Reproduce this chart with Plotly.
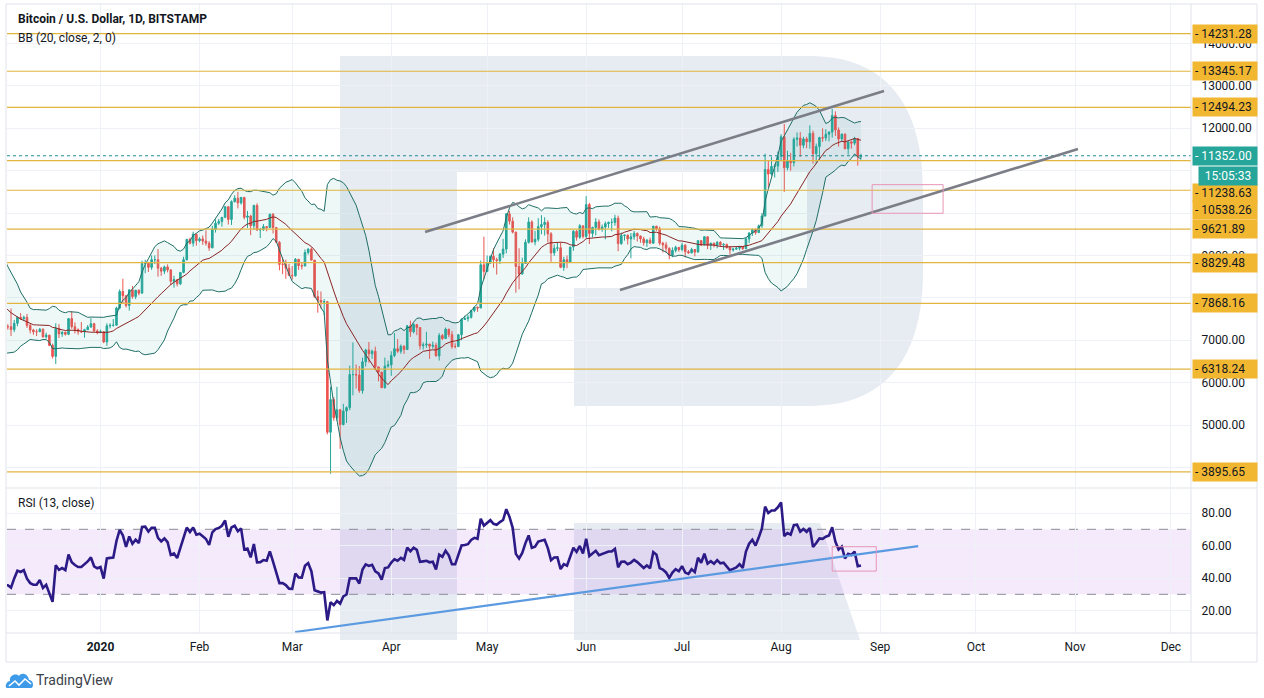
import pandas as pd
import plotly.graph_objects as go

# ---------------- data (BTC/USD daily, Bitstamp) ----------------
dates = pd.date_range("2019-11-08", "2020-08-26", freq="D")

opens = [
    # Nov 8-30
    9235, 8804, 8815, 9055, 8757, 8815, 8808, 8630, 8458, 8491, 8502, 8188, 8119, 8086, 7628, 7280, 7325, 6970, 7140, 7160, 7530, 7470, 7760,
    # Dec
    7570, 7420, 7320, 7320, 7250, 7400, 7540, 7510, 7540, 7350, 7240, 7200, 7200, 7260, 7080, 7120, 6880, 6620, 7280, 7150, 7190, 7140, 7510, 7320, 7250, 7200, 7200, 7250, 7310, 7390, 7220,
    # Jan
    7180, 7200, 6960, 7340, 7350, 7355, 7760, 8150, 8050, 7820, 8190, 8030, 8180, 8110, 8810, 8820, 8720, 8900, 8900, 8700, 8630, 8730, 8660, 8390, 8430, 8330, 8600, 8900, 9380, 9290, 9500,
    # Feb
    9350, 9390, 9340, 9290, 9180, 9620, 9760, 9800, 9900, 10150, 9850, 10270, 10350, 10240, 10370, 9900, 9930, 9700, 10180, 9600, 9610, 9680, 9660, 9970, 9660, 9310, 8790, 8790, 8700,
    # Mar
    8530, 8520, 8910, 8760, 8750, 9070, 9150, 8890, 8030, 7940, 7900, 7910, 4830, 5600, 5170, 5360, 5010, 5330, 5410, 6190, 6190, 6180, 5810, 6490, 6770, 6680, 6740, 6370, 6250, 5880, 6390,
    # Apr
    6420, 6640, 6800, 6740, 6860, 6780, 7340, 7200, 7370, 7300, 6870, 6890, 6910, 6860, 6880, 6630, 7110, 7040, 7260, 7130, 6850, 6850, 7130, 7490, 7510, 7540, 7700, 7780, 7760, 8780,
    # May
    8620, 8830, 8980, 8900, 8880, 9030, 9150, 9980, 9810, 9550, 8740, 8560, 8810, 9310, 9790, 9320, 9380, 9680, 9730, 9780, 9510, 9060, 9170, 9180, 8720, 8900, 8840, 9200, 9570, 9430, 9700,
    # Jun
    9450, 10200, 9520, 9660, 9790, 9620, 9670, 9750, 9780, 9780, 9880, 9280, 9470, 9480, 9390, 9440, 9520, 9460, 9390, 9300, 9360, 9290, 9690, 9630, 9290, 9250, 9170, 9010, 9120, 9190,
    # Jul
    9140, 9240, 9090, 9060, 9140, 9080, 9350, 9250, 9440, 9240, 9290, 9240, 9310, 9250, 9260, 9190, 9130, 9150, 9170, 9210, 9160, 9390, 9530, 9610, 9540, 9700, 9930, 11030, 10920, 11100, 11110,
    # Aug 1-26
    11340, 11800, 11070, 11230, 11190, 11740, 11770, 11600, 11750, 11680, 11880, 11400, 11570, 11780, 11770, 11860, 11910, 12300, 11960, 11750, 11860, 11520, 11680, 11650, 11760, 11330,
]

highs = [
    9235, 8900, 9110, 9075, 8860, 8830, 8810, 8650, 8530, 8600, 8510, 8190, 8230, 8150, 7700, 7350, 7350, 7350, 7300, 7640, 7620, 7870, 7800,
    7570, 7420, 7380, 7750, 7480, 7560, 7640, 7580, 7620, 7390, 7270, 7260, 7290, 7280, 7180, 7130, 6920, 7400, 7380, 7210, 7200, 7520, 7690, 7420, 7280, 7430, 7270, 7360, 7520, 7410, 7260,
    7250, 7210, 7400, 7400, 7500, 7790, 8200, 8450, 8050, 8190, 8280, 8190, 8200, 8880, 8900, 8840, 9000, 9000, 9150, 8730, 8760, 8790, 8670, 8520, 8430, 8600, 8970, 9390, 9420, 9560, 9520,
    9430, 9470, 9590, 9340, 9700, 9850, 9860, 9900, 10150, 10160, 10300, 10420, 10500, 10380, 10380, 10050, 9960, 10200, 10230, 9650, 9740, 9690, 9990, 10000, 9670, 9340, 8960, 8900, 8800,
    8750, 8940, 8910, 8840, 9140, 9170, 9190, 8890, 8170, 8150, 7970, 7920, 5900, 5660, 5900, 5380, 5500, 5440, 6400, 6950, 6430, 6390, 6590, 6800, 6960, 6780, 6850, 6380, 6250, 6590, 6520,
    6740, 7170, 7030, 6900, 6880, 7360, 7460, 7400, 7380, 7310, 6950, 7200, 6910, 6970, 6940, 7170, 7150, 7300, 7270, 7220, 6930, 7150, 7520, 7580, 7600, 7720, 7780, 7790, 8880, 9440,
    9000, 9000, 9170, 8950, 9060, 9390, 10000, 10050, 9900, 9560, 9170, 8950, 9380, 9900, 9830, 9580, 9880, 9950, 9900, 9830, 9550, 9260, 9300, 9310, 8970, 9000, 9200, 9600, 9600, 9740, 9700,
    10400, 10240, 9680, 9880, 9850, 9730, 9800, 9800, 9870, 9960, 9940, 9540, 9490, 9490, 9530, 9580, 9540, 9470, 9440, 9390, 9420, 9700, 9700, 9680, 9320, 9320, 9190, 9190, 9230, 9200,
    9300, 9270, 9130, 9180, 9150, 9360, 9360, 9460, 9450, 9300, 9300, 9340, 9340, 9290, 9280, 9210, 9180, 9200, 9230, 9220, 9420, 9550, 9640, 9640, 9730, 10000, 11400, 11230, 11330, 11160, 11450,
    11860, 12100, 11470, 11420, 11790, 11900, 11910, 11800, 11800, 12070, 11940, 11640, 11800, 12000, 11980, 11930, 12460, 12400, 12020, 11880, 11880, 11690, 11710, 11800, 11770, 11400,
]

lows = [
    8740, 8770, 8770, 8700, 8640, 8720, 8590, 8430, 8440, 8430, 8100, 8010, 8070, 7530, 6870, 7160, 6940, 6620, 7070, 6870, 7420, 7430, 7460,
    7250, 7250, 7250, 7100, 7190, 7330, 7480, 7450, 7290, 7160, 7130, 7100, 7200, 7060, 7040, 6860, 6570, 6440, 7050, 7080, 7110, 7120, 7270, 7160, 7130, 7170, 7060, 7240, 7300, 7200, 7140,
    7170, 6930, 6870, 7280, 7320, 7350, 7730, 7880, 7770, 7700, 7980, 7970, 8060, 8110, 8580, 8610, 8660, 8800, 8500, 8520, 8560, 8600, 8300, 8240, 8270, 8300, 8580, 8880, 9260, 9210, 9230,
    9310, 9250, 9230, 9110, 9170, 9540, 9720, 9680, 9880, 9730, 9720, 10250, 10110, 10200, 9850, 9650, 9480, 9600, 9580, 9410, 9580, 9570, 9650, 9520, 9290, 8650, 8560, 8450, 8520,
    8430, 8500, 8660, 8670, 8750, 9020, 8880, 8000, 7650, 7740, 7600, 4780, 3850, 5100, 5100, 4440, 4990, 5050, 5350, 5700, 5860, 5760, 5740, 6380, 6470, 6560, 6300, 6030, 5870, 5860, 6350,
    6160, 6600, 6700, 6680, 6680, 6780, 7080, 7160, 7120, 6780, 6780, 6820, 6560, 6800, 6620, 6520, 7000, 7030, 7070, 6800, 6810, 6840, 7000, 7480, 7440, 7510, 7660, 7670, 7760, 8440,
    8620, 8800, 8710, 8550, 8800, 8940, 9050, 9730, 9520, 8120, 8200, 8560, 8800, 9280, 9300, 9240, 9330, 9500, 9470, 9310, 8850, 8990, 9100, 8700, 8640, 8700, 8820, 9110, 9350, 9390, 9400,
    9410, 9270, 9430, 9470, 9590, 9560, 9380, 9650, 9570, 9700, 9100, 9250, 9350, 9260, 8930, 9370, 9330, 9300, 9230, 9200, 9280, 9280, 9580, 9240, 9070, 9070, 8910, 8960, 9070, 9090,
    9100, 8950, 9040, 9050, 8980, 9070, 9220, 9240, 9150, 9130, 9190, 9170, 9200, 9130, 9160, 9020, 9090, 9130, 9120, 9130, 9150, 9290, 9460, 9490, 9530, 9650, 9920, 10600, 10880, 10840, 10970,
    11220, 10500, 11010, 11000, 11100, 11570, 11330, 11530, 11530, 11520, 11170, 11160, 11260, 11680, 11700, 11690, 11780, 11820, 11570, 11680, 11500, 11380, 11520, 11600, 11120, 11260,
]

closes = [
    8804, 8815, 9055, 8757, 8815, 8808, 8630, 8458, 8491, 8502, 8188, 8119, 8086, 7628, 7280, 7325, 6970, 7140, 7160, 7530, 7470, 7760, 7570,
    7420, 7320, 7320, 7250, 7400, 7540, 7510, 7540, 7350, 7240, 7200, 7200, 7260, 7080, 7120, 6880, 6620, 7280, 7150, 7190, 7140, 7510, 7320, 7250, 7200, 7200, 7250, 7310, 7390, 7220, 7180,
    7200, 6960, 7340, 7350, 7355, 7760, 8150, 8050, 7820, 8190, 8030, 8180, 8110, 8810, 8820, 8720, 8900, 8900, 8700, 8630, 8730, 8660, 8390, 8430, 8330, 8600, 8900, 9380, 9290, 9500, 9350,
    9390, 9340, 9290, 9180, 9620, 9760, 9800, 9900, 10150, 9850, 10270, 10350, 10240, 10370, 9900, 9930, 9700, 10180, 9600, 9610, 9680, 9660, 9970, 9660, 9310, 8790, 8790, 8700, 8530,
    8520, 8910, 8760, 8750, 9070, 9150, 8890, 8030, 7940, 7900, 7910, 4830, 5600, 5170, 5360, 5010, 5330, 5410, 6190, 6190, 6180, 5810, 6490, 6770, 6680, 6740, 6370, 6250, 5880, 6390, 6420,
    6640, 6800, 6740, 6860, 6780, 7340, 7200, 7370, 7300, 6870, 6890, 6910, 6860, 6880, 6630, 7110, 7040, 7260, 7130, 6850, 6850, 7130, 7490, 7510, 7540, 7700, 7780, 7760, 8780, 8620,
    8830, 8980, 8900, 8880, 9030, 9150, 9980, 9810, 9550, 8740, 8560, 8810, 9310, 9790, 9320, 9380, 9680, 9730, 9780, 9510, 9060, 9170, 9180, 8720, 8900, 8840, 9200, 9570, 9430, 9700, 9450,
    10200, 9520, 9660, 9790, 9620, 9670, 9750, 9780, 9780, 9880, 9280, 9470, 9480, 9390, 9440, 9520, 9460, 9390, 9300, 9360, 9290, 9690, 9630, 9290, 9250, 9170, 9010, 9120, 9190, 9140,
    9240, 9090, 9060, 9140, 9080, 9350, 9250, 9440, 9240, 9290, 9240, 9310, 9250, 9260, 9190, 9130, 9150, 9170, 9210, 9160, 9390, 9530, 9610, 9540, 9700, 9930, 11030, 10920, 11100, 11110, 11340,
    11800, 11070, 11230, 11190, 11740, 11770, 11600, 11750, 11680, 11880, 11400, 11570, 11780, 11770, 11860, 11910, 12300, 11960, 11750, 11860, 11520, 11680, 11650, 11760, 11330, 11352,
]

levels = [14231.28, 13345.17, 12494.23, 11238.63, 10538.26, 9621.89, 8829.48, 7868.16, 6318.24, 3895.65]
last_price = 11352.00
countdown = "15:05:33"

month_ticks = list(pd.date_range("2020-01-01", "2020-12-01", freq="MS"))
month_labels = ["<b>2020</b>", "Feb", "Mar", "Apr", "May", "Jun", "Jul", "Aug", "Sep", "Oct", "Nov", "Dec"]
price_ticks = list(range(4000, 15000, 1000))
# price scale labels that sit hidden under the level labels in the reference
hidden_price_ticks = [4000, 8000, 10000, 11000]
rsi_ticks = [20, 40, 60, 80]

# drawings (anchor points)
upper_channel = [("2020-04-11 14:00", 9554), ("2020-09-02 05:00", 12880)]
lower_channel = [("2020-06-11 14:00", 8185), ("2020-11-01 22:00", 11512)]
rsi_trend = [("2020-03-01 22:00", 6.8), ("2020-09-12 22:00", 59.7)]
target_box = [("2020-08-29 12:00", 9995), ("2020-09-20 17:00", 10670)]
rsi_box = [("2020-08-17 00:00", 44.3), ("2020-08-30 19:00", 59.3)]

# ---------------- indicators ----------------
s = pd.Series(closes, index=dates, dtype=float)
basis = s.rolling(20).mean()
dev = s.rolling(20).std(ddof=0)
upper = basis + 2 * dev
lower = basis - 2 * dev
bb = pd.DataFrame({"basis": basis, "upper": upper, "lower": lower}).dropna()

chg = s.diff().iloc[1:]
avg_g = chg.clip(lower=0).ewm(alpha=1 / 13, adjust=False).mean()
avg_l = (-chg).clip(lower=0).ewm(alpha=1 / 13, adjust=False).mean()
rsi = 100 - 100 / (1 + avg_g / avg_l)

# ---------------- styling ----------------
UP, DOWN = "#26a69a", "#ef5350"
GOLD_LINE = "#e2b440"
GOLD_BOX = "#f2b730"
GRID = "#eef1f6"
TEXT = "#131722"
FONT = "Roboto"

# pixel -> paper helpers for decorations (plot area: x 7..1191, y 4..633)
def X(px):
    return (px - 7) / 1184.0

def Y(py):
    return (633 - py) / 629.0

fig = go.Figure()

fig.add_trace(go.Scatter(x=bb.index, y=bb["lower"], mode="lines",
                         line=dict(color="#1f6e66", width=1), hoverinfo="skip"))
fig.add_trace(go.Scatter(x=bb.index, y=bb["upper"], mode="lines", fill="tonexty",
                         fillcolor="rgba(38,166,154,0.08)",
                         line=dict(color="#1f6e66", width=1), hoverinfo="skip"))
fig.add_trace(go.Scatter(x=bb.index, y=bb["basis"], mode="lines",
                         line=dict(color="#8b2525", width=1), hoverinfo="skip"))
fig.add_trace(go.Candlestick(
    x=dates, open=opens, high=highs, low=lows, close=closes,
    increasing=dict(line=dict(color=UP, width=1), fillcolor=UP),
    decreasing=dict(line=dict(color=DOWN, width=1), fillcolor=DOWN),
    whiskerwidth=0, xaxis="x", yaxis="y"))
fig.add_trace(go.Scatter(x=rsi.index, y=rsi.values, mode="lines",
                         line=dict(color="#2c1b86", width=2.6),
                         xaxis="x2", yaxis="y2", hoverinfo="skip"))

shapes = []
# watermark logo
WM = "#e7ebf2"
wm_main = (f"M {X(340)},{Y(56)} L {X(810)},{Y(56)} "
           f"C {X(890)},{Y(56)} {X(923)},{Y(110)} {X(923)},{Y(190)} "
           f"L {X(923)},{Y(272)} "
           f"C {X(923)},{Y(352)} {X(890)},{Y(406)} {X(810)},{Y(406)} "
           f"L {X(574)},{Y(406)} L {X(574)},{Y(288)} L {X(807)},{Y(288)} "
           f"L {X(807)},{Y(172)} L {X(457)},{Y(172)} L {X(457)},{Y(640)} "
           f"L {X(340)},{Y(640)} Z")
wm_leg = (f"M {X(574)},{Y(523)} L {X(820)},{Y(523)} L {X(860)},{Y(640)} "
          f"L {X(574)},{Y(640)} Z")
for p in (wm_main, wm_leg):
    shapes.append(dict(type="path", path=p, xref="paper", yref="paper",
                       fillcolor=WM, line=dict(width=0), layer="below"))

# RSI band
shapes.append(dict(type="rect", xref="paper", yref="y2", x0=0, x1=1, y0=30, y1=70,
                   fillcolor="rgba(170,90,230,0.13)", line=dict(width=0), layer="below"))
for lv in (30, 70):
    shapes.append(dict(type="line", xref="paper", yref="y2", x0=0, x1=1, y0=lv, y1=lv,
                       line=dict(color="#8a8d96", width=1, dash="dash"), layer="below"))

# level lines
for lv in levels:
    shapes.append(dict(type="line", xref="paper", yref="y", x0=0, x1=1, y0=lv, y1=lv,
                       line=dict(color=GOLD_LINE, width=1.2), layer="above"))
# last price line
shapes.append(dict(type="line", xref="paper", yref="y", x0=0, x1=1, y0=last_price, y1=last_price,
                   line=dict(color="#1f8a95", width=1, dash="dot"), layer="above"))

# channel lines
for (a, b) in (upper_channel, lower_channel):
    shapes.append(dict(type="line", xref="x", yref="y", x0=a[0], y0=a[1], x1=b[0], y1=b[1],
                       line=dict(color="#7b7e86", width=2.6), layer="above"))
shapes.append(dict(type="line", xref="x2", yref="y2", x0=rsi_trend[0][0], y0=rsi_trend[0][1],
                   x1=rsi_trend[1][0], y1=rsi_trend[1][1],
                   line=dict(color="#5b9ae0", width=2.2), layer="above"))
shapes.append(dict(type="rect", xref="x", yref="y", x0=target_box[0][0], y0=target_box[0][1],
                   x1=target_box[1][0], y1=target_box[1][1],
                   line=dict(color="#e795b5", width=1), fillcolor="rgba(0,0,0,0)", layer="above"))
shapes.append(dict(type="rect", xref="x2", yref="y2", x0=rsi_box[0][0], y0=rsi_box[0][1],
                   x1=rsi_box[1][0], y1=rsi_box[1][1],
                   line=dict(color="#e795b5", width=1), fillcolor="rgba(0,0,0,0)", layer="above"))

# frame
BORDER = "#e0e3eb"
for (x0, y0, x1, y1) in [(6, 4, 1257, 4), (6, 4, 6, 662), (1257, 4, 1257, 662), (6, 662, 1257, 662),
                         (1191, 4, 1191, 662), (6, 633, 1257, 633), (6, 488, 1257, 488)]:
    shapes.append(dict(type="line", xref="paper", yref="paper", x0=X(x0), y0=Y(y0), x1=X(x1), y1=Y(y1),
                       line=dict(color=BORDER, width=1), layer="above"))

# TradingView logo icon
cloud = (f"M {X(7)},{Y(688)} L {X(31)},{Y(688)} C {X(34)},{Y(688)} {X(34)},{Y(680)} {X(29)},{Y(680)} "
         f"C {X(28)},{Y(673)} {X(21)},{Y(672)} {X(19)},{Y(676)} "
         f"C {X(16)},{Y(673)} {X(9)},{Y(675)} {X(10)},{Y(681)} "
         f"C {X(5)},{Y(682)} {X(5)},{Y(688)} {X(7)},{Y(688)} Z")
shapes.append(dict(type="path", path=cloud, xref="paper", yref="paper",
                   fillcolor="#3d9be9", line=dict(width=0), layer="above"))
wave = f"M {X(9)},{Y(686)} L {X(15)},{Y(681)} L {X(19)},{Y(685)} L {X(25)},{Y(679)} L {X(31)},{Y(684)}"
shapes.append(dict(type="path", path=wave, xref="paper", yref="paper",
                   line=dict(color="white", width=1.6), layer="above"))

annotations = []
annotations.append(dict(x=X(16), y=Y(19), xref="paper", yref="paper", xanchor="left", yanchor="middle",
                        text="<b>Bitcoin / U.S. Dollar, 1D, BITSTAMP</b>", showarrow=False,
                        font=dict(size=12, color=TEXT, family=FONT)))
annotations.append(dict(x=X(16), y=Y(38), xref="paper", yref="paper", xanchor="left", yanchor="middle",
                        text="BB (20, close, 2, 0)", showarrow=False,
                        font=dict(size=12, color=TEXT, family=FONT)))
annotations.append(dict(x=X(16), y=Y(503), xref="paper", yref="paper", xanchor="left", yanchor="middle",
                        text="RSI (13, close)", showarrow=False,
                        font=dict(size=12, color=TEXT, family=FONT)))
annotations.append(dict(x=X(34), y=Y(680), xref="paper", yref="paper", xanchor="left", yanchor="middle",
                        text="TradingView", showarrow=False,
                        font=dict(size=14, color="#3b3f4a", family=FONT)))

label_shift = {11238.63: -32, 10538.26: -20}
for lv in levels:
    annotations.append(dict(x=1, xref="paper", y=lv, yref="y", xanchor="left", yanchor="middle",
                            xshift=1, yshift=label_shift.get(lv, 0), text="- " + f"{lv:.2f}",
                            showarrow=False, bgcolor=GOLD_BOX, width=60, height=14, align="left",
                            borderpad=2, font=dict(size=12, color=TEXT, family=FONT)))
annotations.append(dict(x=1, xref="paper", y=last_price, yref="y", xanchor="left", yanchor="middle",
                        xshift=1, text="- " + f"{last_price:.2f}", showarrow=False, bgcolor=UP,
                        width=60, height=14, align="left", borderpad=2,
                        font=dict(size=12, color="white", family=FONT)))
annotations.append(dict(x=1, xref="paper", y=last_price, yref="y", xanchor="left", yanchor="middle",
                        xshift=7, yshift=-20, text=countdown, showarrow=False, bgcolor=UP,
                        width=54, height=14, align="center", borderpad=2,
                        font=dict(size=12, color="white", family=FONT)))

x_range = ["2019-12-02 17:45", "2020-12-07 07:00"]
price_ticktext = ["" if v in hidden_price_ticks else f"{v:.2f}" for v in price_ticks]

fig.update_layout(
    width=1264, height=698,
    margin=dict(l=7, r=73, t=4, b=65),
    paper_bgcolor="white", plot_bgcolor="rgba(0,0,0,0)",
    showlegend=False,
    font=dict(family=FONT, size=12, color=TEXT),
    xaxis=dict(domain=[0, 1], anchor="y", type="date", range=x_range,
               tickvals=month_ticks, showticklabels=False,
               showgrid=True, gridcolor=GRID, zeroline=False, showline=False,
               rangeslider=dict(visible=False)),
    xaxis2=dict(domain=[0, 1], anchor="y2", type="date", range=x_range, matches="x",
                tickvals=month_ticks, ticktext=month_labels,
                ticks="outside", ticklen=3, tickcolor="rgba(0,0,0,0)",
                showgrid=True, gridcolor=GRID, zeroline=False, showline=False,
                tickfont=dict(size=12, color=TEXT, family=FONT)),
    yaxis=dict(domain=[Y(487), 1], anchor="x", side="right", range=[3538, 14932],
               tickvals=price_ticks, ticktext=price_ticktext,
               ticks="outside", ticklen=7, tickcolor="rgba(0,0,0,0)",
               showgrid=True, gridcolor=GRID, zeroline=False, showline=False,
               tickfont=dict(size=12, color=TEXT, family=FONT)),
    yaxis2=dict(domain=[0, Y(489)], anchor="x2", side="right", range=[6.2, 94.8],
                tickvals=rsi_ticks, tickformat=".2f",
                ticks="outside", ticklen=7, tickcolor="rgba(0,0,0,0)",
                showgrid=True, gridcolor=GRID, zeroline=False, showline=False,
                tickfont=dict(size=12, color=TEXT, family=FONT)),
    shapes=shapes,
    annotations=annotations,
)

fig.write_html("out.html", config={"displayModeBar": False},
               post_script="document.body.style.margin='0';document.body.style.overflow='hidden';")
